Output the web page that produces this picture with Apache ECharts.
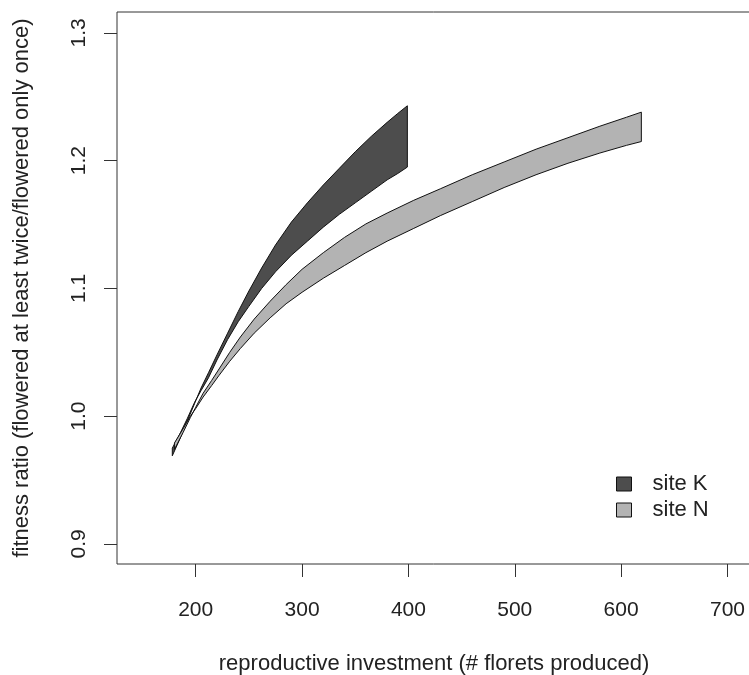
<!DOCTYPE html>
<html>
<head>
<meta charset="utf-8">
<script src="https://cdn.jsdelivr.net/npm/echarts@6/dist/echarts.min.js"></script>
<style>
    html, body { margin: 0; padding: 0; background: #fff; }
    #main { width: 749px; height: 675px; }
</style>
</head>
<body>
<div id="main"></div>
<script>
// 刻度
var xTicks = [200, 300, 400, 500, 600, 700];
var yTicks = [0.9, 1.0, 1.1, 1.2, 1.3];
var siteNames = ['site K', 'site N'];

// site K 置信带（上/下边界）
var kX     = [178, 185, 192, 199, 205, 212, 220, 230, 240, 250, 262, 275, 290, 305, 320, 335, 350, 365, 380, 390, 399];
var kUpper = [0.969, 0.982, 0.996, 1.010, 1.022, 1.034, 1.048, 1.065, 1.082, 1.098, 1.116, 1.134, 1.152, 1.167, 1.181, 1.194, 1.207, 1.219, 1.230, 1.237, 1.243];
var kLower = [0.975, 0.986, 0.998, 1.011, 1.020, 1.030, 1.044, 1.060, 1.074, 1.086, 1.100, 1.113, 1.126, 1.137, 1.148, 1.158, 1.167, 1.176, 1.185, 1.190, 1.195];

// site N 置信带
var nX     = [180, 188, 195, 200, 207, 215, 222, 232, 242, 255, 270, 285, 300, 320, 340, 360, 380, 405, 430, 460, 490, 520, 550, 580, 605, 619];
var nUpper = [0.974, 0.987, 0.999, 1.007, 1.018, 1.028, 1.037, 1.050, 1.062, 1.076, 1.090, 1.103, 1.115, 1.128, 1.140, 1.1505, 1.159, 1.169, 1.178, 1.189, 1.199, 1.209, 1.218, 1.227, 1.234, 1.238];
var nLower = [0.979, 0.990, 1.000, 1.006, 1.015, 1.024, 1.032, 1.043, 1.053, 1.065, 1.077, 1.088, 1.097, 1.108, 1.118, 1.128, 1.137, 1.147, 1.157, 1.168, 1.179, 1.189, 1.198, 1.206, 1.212, 1.215];

var fontName = 'Liberation Sans, Arial, sans-serif';

// 把上下边界拼成一个多边形
function bandItem(xs, up, lo) {
    return function (params, api) {
        if (params.dataIndex !== 0) return;
        var pts = [];
        for (var i = 0; i < xs.length; i++) pts.push(api.coord([xs[i], up[i]]));
        for (var j = xs.length - 1; j >= 0; j--) pts.push(api.coord([xs[j], lo[j]]));
        return {
            type: 'polygon',
            shape: { points: pts },
            style: { fill: api.visual('color'), stroke: '#111', lineWidth: 1, lineJoin: 'round' }
        };
    };
}

function rows(xs, up, lo) {
    return xs.map(function (x, i) { return [x, up[i], lo[i]]; });
}

var myChart = echarts.init(document.getElementById('main'));
var option = {
    animation: false,
    backgroundColor: '#fff',
    grid: {
        left: 117, right: -2, top: 12, bottom: 111,
        outerBoundsMode: 'none',
        show: true, borderColor: '#333', borderWidth: 1, backgroundColor: 'transparent'
    },
    legend: {
        orient: 'vertical',
        left: 616, top: 473, padding: 0,
        itemWidth: 15, itemHeight: 14, itemGap: 4,
        textStyle: { fontFamily: fontName, fontSize: 22, color: '#222', padding: [0, 0, 0, 16] },
        data: [
            { name: siteNames[0], icon: 'rect', itemStyle: { color: '#4d4d4d', borderColor: '#111', borderWidth: 1 } },
            { name: siteNames[1], icon: 'rect', itemStyle: { color: '#b3b3b3', borderColor: '#111', borderWidth: 1 } }
        ]
    },
    xAxis: {
        type: 'value',
        min: 126.0, max: 722.1,
        name: 'reproductive investment (# florets produced)',
        nameLocation: 'middle', nameGap: 89,
        nameTextStyle: { fontFamily: fontName, fontSize: 22, color: '#222' },
        axisLine: { show: false },
        splitLine: { show: false },
        axisTick: { show: true, length: 13, lineStyle: { color: '#333' }, customValues: xTicks },
        axisLabel: { margin: 36, fontFamily: fontName, fontSize: 21, color: '#222', customValues: xTicks }
    },
    yAxis: {
        type: 'value',
        min: 0.8843, max: 1.3164,
        name: 'fitness ratio (flowered at least twice/flowered only once)',
        nameLocation: 'middle', nameGap: 84, nameRotate: 90,
        nameTextStyle: { fontFamily: fontName, fontSize: 22, color: '#222' },
        axisLine: { show: false },
        splitLine: { show: false },
        axisTick: { show: true, length: 13, lineStyle: { color: '#333' }, customValues: yTicks },
        axisLabel: {
            margin: 27, rotate: 90, fontFamily: fontName, fontSize: 21, color: '#222',
            customValues: yTicks,
            formatter: function (v) { return v.toFixed(1); }
        }
    },
    series: [
        {
            name: siteNames[0], type: 'custom',
            renderItem: bandItem(kX, kUpper, kLower),
            itemStyle: { color: '#4d4d4d' },
            encode: { x: 0, y: [1, 2] },
            data: rows(kX, kUpper, kLower)
        },
        {
            name: siteNames[1], type: 'custom',
            renderItem: bandItem(nX, nUpper, nLower),
            itemStyle: { color: '#b3b3b3' },
            encode: { x: 0, y: [1, 2] },
            data: rows(nX, nUpper, nLower)
        }
    ]
};
myChart.setOption(option);
</script>
</body>
</html>
